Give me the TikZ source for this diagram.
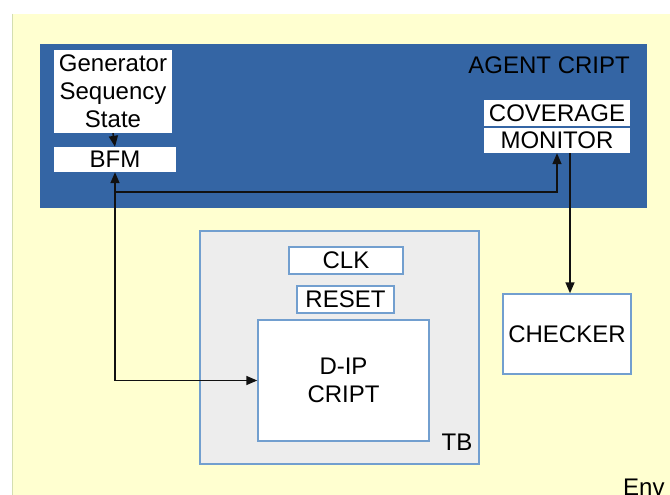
\documentclass[tikz,border=0pt]{standalone}
\usepackage{fontspec}
\setmainfont{Liberation Sans}
\usetikzlibrary{arrows.meta}
\definecolor{envyellow}{HTML}{FFFFD0}
\definecolor{envedge}{HTML}{D4DEB0}
\definecolor{agentblue}{HTML}{3465A4}
\definecolor{boxedge}{HTML}{729FCF}
\definecolor{tbgray}{HTML}{EDEDED}
\definecolor{wire}{HTML}{111111}
\tikzset{
  lbl/.style={font=\fontsize{24}{28}\selectfont, text=black, inner sep=0pt},
  whitebox/.style={lbl, rectangle, fill=white, draw=none, align=center},
  edgebox/.style={lbl, rectangle, fill=white, draw=boxedge, line width=1.5pt, align=center},
  wirestyle/.style={draw=wire, line width=1.6pt, arrows={-}},
  tip/.style={-{Triangle[length=11pt,width=9pt]}},
  bitip/.style={{Triangle[length=11pt,width=9pt]}-{Triangle[length=11pt,width=9pt]}}
}
\begin{document}
\begin{tikzpicture}[x=1pt,y=-1pt]
\useasboundingbox (0,0) rectangle (670,495);
\clip (0,0) rectangle (670,495);
\fill[white] (0,0) rectangle (670,495);
\fill[envyellow] (12,14) rectangle (672,497);
\draw[envedge, line width=1pt] (12.5,14) -- (12.5,497);
\node[rectangle, fill=agentblue, minimum width=607pt, minimum height=164pt, inner sep=0pt] (agent) at (343.5,126) {};
\node[lbl, anchor=east] (agentlbl) at (630,65) {AGENT CRIPT};
\node[whitebox, minimum width=118pt, minimum height=83pt] (gen) at (113,91.5) {Generator\\Sequency\\State};
\node[whitebox, minimum width=122pt, minimum height=25pt] (bfm) at (115,159.5) {BFM};
\node[whitebox, minimum width=146pt, minimum height=26pt] (cov) at (557,113) {COVERAGE};
\node[whitebox, minimum width=146pt, minimum height=25pt] (mon) at (557,140.5) {MONITOR};
\node[rectangle, fill=tbgray, draw=boxedge, line width=1.5pt, minimum width=279pt, minimum height=233pt, inner sep=0pt] (tb) at (339.5,347.5) {};
\node[lbl] (tblbl) at (457,442) {TB};
\node[edgebox, minimum width=114pt, minimum height=27pt] (clk) at (346,260.5) {CLK};
\node[edgebox, minimum width=97pt, minimum height=27pt] (reset) at (345.5,299.5) {RESET};
\node[edgebox, minimum width=171pt, minimum height=121pt] (dip) at (343.5,380.5) {D-IP\\CRIPT};
\node[edgebox, minimum width=128pt, minimum height=80pt] (checker) at (567,334) {CHECKER};
\node[lbl, anchor=base west] (env) at (623,495) {Env};
\coordinate (junc) at (115,192);
\coordinate (monout) at ([xshift=13pt]mon.south);
\draw[wirestyle, tip] (gen.south) -- (bfm.north);
\draw[wirestyle, bitip] (bfm.south) |- (dip.west);
\draw[wirestyle, tip] (junc) -| (mon.south);
\draw[wirestyle, tip] (monout) -- (checker.north -| monout);
\end{tikzpicture}
\end{document}
